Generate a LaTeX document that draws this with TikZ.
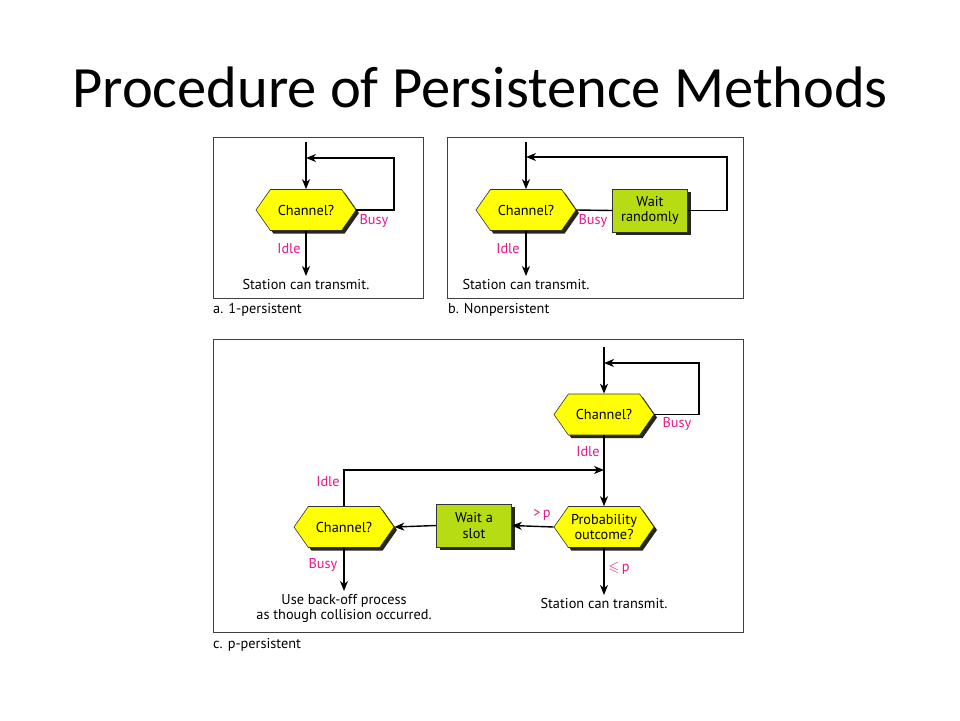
\documentclass[tikz,border=0pt]{standalone}
\usepackage{amssymb,amsmath}
\usepackage{fontspec}
\setmainfont{Carlito}
\newfontfamily\figfont{PT Sans}
\usepackage{tikz}
\usetikzlibrary{%
  arrows.meta,%
  shapes.symbols,%
  shadows%
}
\definecolor{hexyellow}{HTML}{FFFF00}
\definecolor{boxgreen}{HTML}{B8DC14}
\definecolor{lblpink}{HTML}{E6198C}
\definecolor{framegray}{HTML}{404040}
\tikzset{>={Stealth[length=10pt,width=8pt,inset=3pt]}}
\tikzset{
  figtext/.style={font=\figfont\fontsize{14.3}{15.5}\selectfont},
  decision/.style={signal, signal to=east and west, signal pointer angle=110,
    draw=black!80, line width=0.6pt, fill=hexyellow, minimum width=100pt,
    minimum height=41pt, inner sep=1pt, align=center, figtext,
    drop shadow={shadow xshift=3pt, shadow yshift=-3pt, fill=black!85, opacity=1}},
  waitbox/.style={rectangle, draw=black!80, line width=0.6pt, fill=boxgreen,
    minimum width=75pt, minimum height=43pt, inner sep=1pt, align=center, figtext,
    drop shadow={shadow xshift=3pt, shadow yshift=-3pt, fill=black!85, opacity=1}},
  cond/.style={figtext, text=lblpink, inner sep=0pt},
  result/.style={figtext, inner sep=3pt, align=center, anchor=north},
  caption/.style={figtext, inner sep=0pt, anchor=west},
  frame/.style={draw=framegray, line width=0.8pt},
  flow/.style={line width=1.4pt}
}

\begin{document}
\begin{tikzpicture}[x=1pt,y=-1pt]
    \useasboundingbox[fill=white] (0,0) rectangle (960,720);
    \node[anchor=base, font=\fontsize{58.5}{64}\selectfont] (title) at (480,107)
    {Procedure of Persistence Methods};

    % a. 1-persistent
    \draw[frame] (213,137) rectangle (423,298);
    \node[caption] (capa) at (213,310) {a. 1-persistent};
    \node[decision] (cha) at (306,210) {Channel?};
    \coordinate (ina) at (306,142);
    \coordinate (joina) at (306,158);
    \coordinate (loopa) at (394,158);
    \node[result] (sta) at (306,276) {Station can transmit.};
    \draw[flow,->] (ina) -- (cha.north);
    \draw[flow,->] (cha.east) -| (loopa) -- (joina);
    \draw[flow,->] (cha.south) -- (sta.north);
    \node[cond] at (374,221) {Busy};
    \node[cond] at (289,249) {Idle};

    % b. Nonpersistent
    \draw[frame] (447,137) rectangle (743,298);
    \node[caption] (capb) at (448,310) {b. Nonpersistent};
    \node[decision] (chb) at (526,210) {Channel?};
    \node[waitbox] (wtr) at (650,210.5) {Wait\\randomly};
    \coordinate (inb) at (526,142);
    \coordinate (joinb) at (526,157);
    \coordinate (loopb) at (727,157);
    \node[result] (stb) at (526,276) {Station can transmit.};
    \draw[flow,->] (inb) -- (chb.north);
    \draw[flow] (chb.east) -- (wtr.west);
    \draw[flow,->] (wtr.east) -| (loopb) -- (joinb);
    \draw[flow,->] (chb.south) -- (stb.north);
    \node[cond] at (593,221) {Busy};
    \node[cond] at (508,249) {Idle};

    % c. p-persistent
    \draw[frame] (213,339) rectangle (743,632);
    \node[caption] (capc) at (213,645) {c. p-persistent};
    \node[decision] (chc) at (604,414.5) {Channel?};
    \node[decision] (prob) at (604,527) {Probability\\outcome?};
    \node[waitbox] (wsl) at (474,525.5) {Wait a\\slot};
    \node[decision] (chd) at (344,527) {Channel?};
    \coordinate (inc) at (604,347);
    \coordinate (joinc) at (604,363);
    \coordinate (loopc) at (699,363);
    \coordinate (joind) at (604,470);
    \node[result] (stc) at (604,595) {Station can transmit.};
    \node[result] (bck) at (344,591) {Use back-off process\\as though collision occurred.};
    \draw[flow,->] (inc) -- (chc.north);
    \draw[flow,->] (chc.east) -| (loopc) -- (joinc);
    \draw[flow,->] (chc.south) -- (prob.north);
    \draw[flow,->] (prob.west) -- (wsl.east);
    \draw[flow,->] (wsl.west) -- (chd.east);
    \draw[flow,->] (chd.north) |- (joind);
    \draw[flow,->] (chd.south) -- (bck.north);
    \draw[flow,->] (prob.south) -- (stc.north);
    \node[cond] at (677,424) {Busy};
    \node[cond] at (588,452) {Idle};
    \node[cond] at (542,515) {>\,p};
    \node[cond] at (619,568) {$\leqslant$\,p};
    \node[cond] at (328,482) {Idle};
    \node[cond] at (323,565) {Busy};
\end{tikzpicture}
\end{document}
